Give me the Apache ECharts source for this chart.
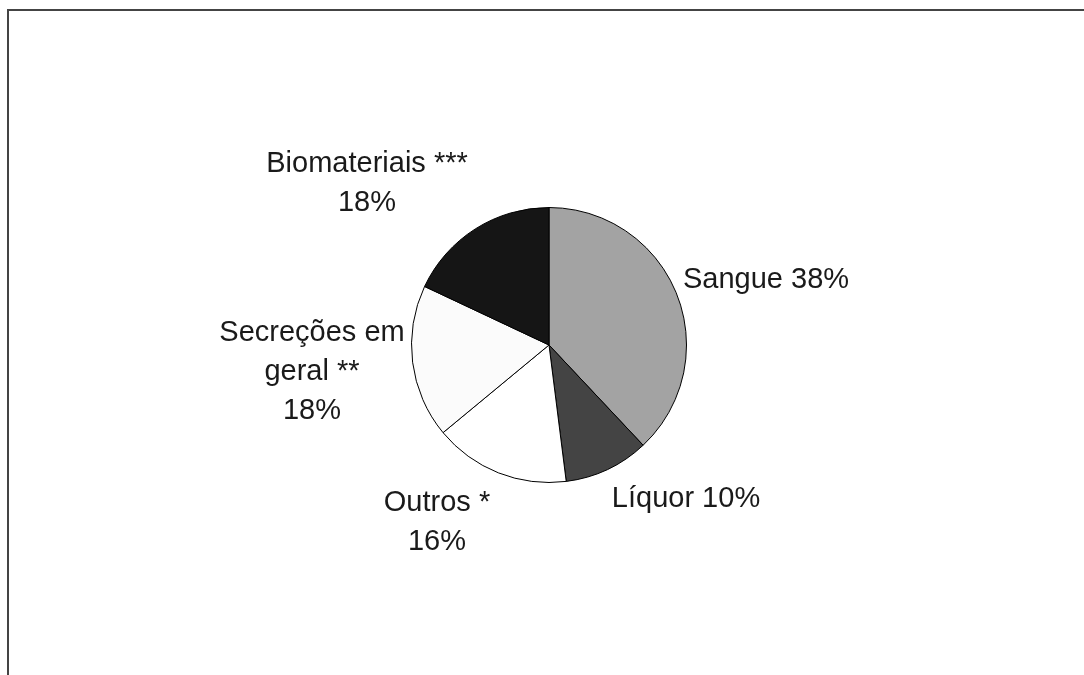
<!DOCTYPE html>
<html>
<head>
<meta charset="utf-8">
<script src="https://cdn.jsdelivr.net/npm/echarts@6/dist/echarts.min.js"></script>
<style>
  html, body { margin: 0; padding: 0; background: #fff; }
  #chart { width: 1084px; height: 675px; }
</style>
</head>
<body>
<div id="chart"></div>
<script>
// dados do grafico
const categories = ['Sangue', 'Líquor', 'Outros *', 'Secreções em geral **', 'Biomateriais ***'];
const values = [38, 10, 16, 18, 18];
// texto dos rotulos (com quebras de linha como no original)
const labelNames = ['Sangue ', 'Líquor ', 'Outros *\n', 'Secreções em\ngeral **\n', 'Biomateriais ***\n'];
const sliceColors = ['#a3a3a3', '#444444', '#ffffff', '#fbfbfb', '#151515'];

// layout: centro dos rotulos em pixels
const labelAnchor = [[766, 280], [686, 499], [437, 522], [312, 372], [367, 183]];

const myChart = echarts.init(document.getElementById('chart'));

const option = {
  animation: false,
  backgroundColor: '#ffffff',
  graphic: [{
    type: 'rect',
    shape: { x: 8, y: 10, width: 1300, height: 900 },
    style: { fill: 'none', stroke: '#444444', lineWidth: 2 },
    silent: true
  }],
  series: [{
    type: 'pie',
    center: [549, 345],
    radius: 137.5,
    startAngle: 90,
    clockwise: true,
    avoidLabelOverlap: false,
    silent: true,
    data: categories.map((c, i) => ({
      name: c,
      value: values[i],
      itemStyle: { color: sliceColors[i] }
    })),
    itemStyle: { borderColor: '#000000', borderWidth: 1 },
    label: {
      show: true,
      position: 'outside',
      formatter: (p) => labelNames[p.dataIndex] + p.value + '%',
      fontFamily: 'Liberation Sans, Arial, sans-serif',
      fontSize: 29,
      lineHeight: 39,
      color: '#1a1a1a'
    },
    labelLine: { show: false },
    labelLayout: function (params) {
      const p = labelAnchor[params.dataIndex];
      return { x: p[0], y: p[1], align: 'center', verticalAlign: 'middle' };
    }
  }]
};

myChart.setOption(option);
</script>
</body>
</html>
